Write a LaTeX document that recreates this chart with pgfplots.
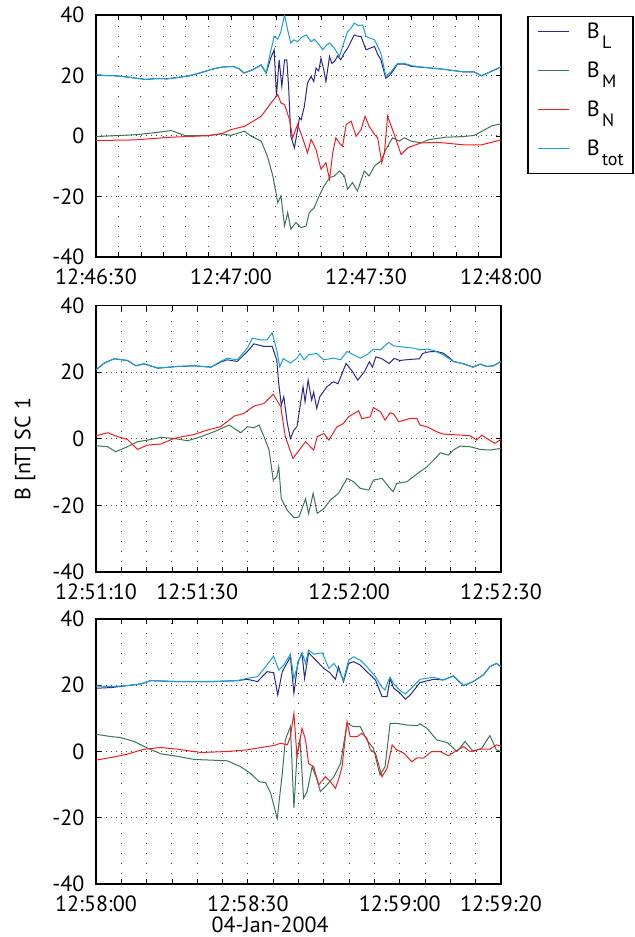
\documentclass[border=0pt]{standalone}
\usepackage{fontspec}
\setmainfont{PT Sans}
\usepackage{pgfplots}
\pgfplotsset{compat=1.18}
\definecolor{cBL}{RGB}{42,42,140}
\definecolor{cBM}{RGB}{58,118,85}
\definecolor{cBN}{RGB}{250,28,32}
\definecolor{cBT}{RGB}{22,162,212}
\newcommand{\sub}[1]{\hspace{1.2pt}\raisebox{-5pt}{\fontsize{9}{10}\selectfont #1}}
\pgfplotsset{
  panel/.style={
    scale only axis, width=202.5pt, xmin=0, ymin=-40, ymax=40,
    ytick={-40,-20,0,20,40}, yticklabels={-40,-20,0,20,40},
    tick align=inside, major tick length=2.5pt, minor tick length=2.5pt,
    tick style={black, line width=0.4pt},
    xmajorgrids, xminorgrids, ymajorgrids,
    major x grid style={black!75, line width=0.5pt, dash pattern=on 0.5pt off 4.5pt},
    minor x grid style={black!75, line width=0.5pt, dash pattern=on 0.5pt off 4.5pt},
    major y grid style={black!75, line width=0.5pt, dash pattern=on 0.5pt off 2pt},
    axis line style={black, line width=0.8pt},
    xticklabel style={yshift=-2.3pt},
    yticklabel style={xshift=-2pt},
    every axis plot/.append style={line width=0.5pt, no markers},
    every axis plot post/.append style={legend image code/.code={\draw[##1, line width=0.6pt] (0pt,3.5pt) -- (15.8pt,3.5pt);}},
    clip=true,
  }
}
\begin{document}
\fontsize{11}{13}\selectfont
\begin{tikzpicture}
\useasboundingbox (0,-468.5pt) rectangle (317.5pt,0pt);
% ---------- Panel 1 ----------
\begin{axis}[panel, at={(48pt,-7.5pt)}, anchor=north west, height=121pt, xmax=90,
  xtick={0,30,60,90}, xticklabels={12:46:30,12:47:00,12:47:30,12:48:00},
  minor xtick={5,10,...,85},
  legend style={at={(1.0642,0.997)}, anchor=north west, line width=0.8pt,
    inner xsep=4.6pt, inner ysep=3pt, row sep=5.5pt, column sep=8.5pt,
    nodes={inner sep=0pt, text height=8pt, text depth=6pt, anchor=base west}},
  legend cell align=left,
]
\addplot[color=cBL] coordinates {(0,20.2)(2,20)(4.5,19.9)(8,19.3)(11,18.7)(13.5,19)(15.8,18.9)(18,19.3)(20.7,19.9)(23,20.8)(25.6,22)(28,22.8)(30.5,23)(31.8,22.2)(32.9,20.8)(34.8,21.9)(36.7,23.5)(37.8,20.8)
 (38.9,26)(39.6,28.5)(40.1,13.1)(40.7,25.2)(41.3,16.4)(41.9,25.2)(42.4,25.2)(42.8,16.4)(43.3,-0.1)(44.1,-3.9)(44.8,2.1)(45.2,6)(45.6,5.4)(46.3,9.8)(47,17.5)(47.8,19.7)(48.4,18)(48.9,22.4)(49.5,21.5)(50,25.7)(50.6,22)(51.1,18)(51.9,26.3)(52.4,24)(53,24.6)(53.7,26.5)(54.4,25.2)(55.2,27.5)(55.9,29)(56.6,31)(57.4,33.4)(58.2,33)(58.9,32.9)(59.5,30.5)(60,28.5)(60.9,29)(61.9,29.6)(62.6,27)(63.3,25.2)(64.4,19.1)(65.2,20)(65.9,21.3)(67,23.8)(68.5,23.8)(70.3,23)(73.5,22.6)(77.6,22)(81.6,21.2)(84,21.2)(85.7,19.9)(87.3,21)(90,22.8)};
\addlegendentry{B\sub{L}}
\addplot[color=cBM] coordinates {(0,-0.2)(4,0.1)(8.5,0.4)(12.5,1)(16.7,1.8)(19.9,0.1)(24.8,0.1)(28,0.7)(30,0.2)(33,1.6)(34.4,0)(36.7,-1.7)(38.1,-6.7)(39.3,-13.2)(40.4,-22)(41.1,-19.8)(41.9,-29.7)(42.6,-25.3)(43.3,-30.8)(44.4,-28.6)(45.6,-30.3)(46.7,-29.7)(47.4,-25.3)(48.5,-23.7)(49.6,-19.8)(50.7,-16.5)(51.9,-13.8)(53,-13.2)(54.1,-11.6)(55.2,-13.2)(55.9,-17.6)(57,-15.4)(58.1,-18.2)(59.6,-11.6)(60.7,-13.2)(61.9,-9.9)(63.3,-8.3)(64.4,-4.5)(65.9,-0.6)(67.4,-1.7)(68.5,-0.6)(70,-1.7)(72.2,-2.3)(74,-1.2)(77.6,-0.4)(81.6,-0.2)(84,0.2)(85.7,1.5)(88,3.4)(90,4)};
\addlegendentry{B\sub{M}}
\addplot[color=cBN] coordinates {(0,-1.5)(8.5,-1.3)(16.7,-0.4)(24.8,0.1)(28,0.8)(30,2.1)(33,3.2)(34.5,4.5)(36.7,6.5)(38.9,10.9)(40.4,13.7)(41.1,10.9)(41.9,10.4)(43,5.4)(43.7,-0.6)(44.8,3.8)(45.9,-0.6)(47,-5.6)(47.8,-1.1)(48.9,-4.5)(50,-11)(51.1,-8.8)(51.9,-14.3)(52.6,-5.6)(53.3,-0.6)(54.1,-2.3)(54.8,-3.4)(55.6,3.8)(56.7,4.9)(57.8,-0.1)(58.9,2.1)(59.8,6.5)(60.7,3.2)(61.9,0.5)(62.6,-0.6)(63.5,-8.8)(64.1,-5.6)(64.8,6.5)(65.9,2.1)(67.8,-6.1)(69.3,-3.9)(72.2,-2.3)(76,-2.1)(81.6,-2.9)(85.7,-2.9)(90,-1.3)};
\addlegendentry{B\sub{N}}
\addplot[color=cBT] coordinates {(0,20.2)(2,20)(4.5,19.9)(8,19.3)(11,18.7)(13.5,19)(15.8,18.9)(18,19.3)(20.7,19.9)(23,20.8)(25.6,22)(28,22.8)(30.5,23)(31.8,22.2)(32.9,20.8)(34.8,21.9)(36.7,23.5)(37.8,20.8)
 (38.9,28.5)(39.6,32.9)(40.4,32)(41.1,34.5)(41.9,40)(42.6,35)(43.3,30.7)(44,31.8)(44.8,31.2)(45.6,32.5)(46.7,33.4)(47.8,31.2)(48.5,32)(49.3,30.7)(50.4,28.5)(51.2,30)(51.9,30.7)(53,29)(54.1,26.3)(54.8,29.6)(55.9,34.5)(56.6,35.5)(57.4,37.3)(58.3,36.5)(59.3,36.7)(60,32.9)(61.9,31.8)(63.3,27.4)(64.4,19.7)(65.6,21.3)(67,24)(68.5,24)(70.3,23.2)(73.5,22.6)(77.6,22)(81.6,21.2)(84,21.2)(85.7,19.9)(87.3,21)(90,22.8)};
\addlegendentry{B\sub{tot}}
\end{axis}
% ---------- Panel 2 ----------
\begin{axis}[panel, at={(48pt,-152.75pt)}, anchor=north west, height=133.25pt, xmax=80,
  xtick={0,20,50,80}, xticklabels={12:51:10,12:51:30,12:52:00,12:52:30},
  minor xtick={5,10,...,75},
  ylabel={B [nT] SC 1},
  ylabel style={at={(axis description cs:-0.1753,0.4615)}, anchor=center},
]
\addplot[color=cBL] coordinates {(0,20.7)(1.6,22.7)(3.6,24)(6.2,23.5)(7.9,21.9)(9.5,22.5)(12.2,21.2)(16.1,21.7)(19.4,21.9)(22.7,21.5)(24.6,23)(25.9,23.7)(27.9,23.2)(29.9,26.2)(31.2,28.5)(33.2,27.7)(34.8,27.7)(35.7,23.7)(36.1,16.6)(36.6,10.1)(37.1,12.6)(37.8,4.6)(38.4,0.1)(39.1,2.6)(39.7,3.6)(40.3,9.6)(40.9,15.6)(41.3,11.1)(41.9,17.6)(42.6,11.6)(43,14)(43.6,9.1)(44.2,12.6)(45.6,15.6)(46.9,17.1)(47.8,16.5)(49.4,22.6)(50.7,20.1)(51.7,17.6)(53,20.1)(54,23.1)(54.6,21.5)(55.3,24.6)(56.5,24)(57.9,22.6)(58.9,24.1)(60,23.5)(61.9,23.8)(63.9,24)(64.5,25.6)(65.8,26.1)(67.3,26.2)(68.6,25.7)(69.9,24.2)(70.6,23.2)(72.6,22.5)(74.5,21.5)(75.9,22.4)(77.2,21.7)(78.5,21.9)(80,23.2)};
\addplot[color=cBM] coordinates {(0,-2.1)(2.3,-2.4)(3.9,-3.9)(6.2,-2.4)(8.2,-0.9)(10.2,-0.4)(12.8,0.4)(15.4,0.1)(18.1,-0.6)(20.7,0.6)(23.3,2.1)(26.3,4.1)(28.6,1.8)(29.9,3.6)(31.2,3.3)(32.2,4.1)(33.2,0.6)(34.2,-3.4)(35,-12.4)(35.7,-11.4)(36.1,-8.4)(36.6,-18)(37.8,-21.5)(39.1,-23.7)(40.1,-23.5)(41.4,-18)(42,-22.5)(42.9,-16.4)(43.7,-22.4)(45,-21)(46.3,-18.4)(47.9,-16.4)(49.6,-11.9)(50.9,-12.9)(52.2,-14.9)(53.9,-15.4)(54.8,-12.4)(56.5,-11.9)(57.8,-14.4)(58.7,-15.9)(59.4,-13.4)(61.4,-12.9)(62.7,-11.4)(64,-9.9)(65.4,-8.4)(66.7,-6.4)(68,-4.2)(69.6,-4.9)(70.6,-3.4)(71.9,-2.2)(73.9,-2.4)(75.9,-3.2)(77.8,-3.4)(80,-2.9)};
\addplot[color=cBN] coordinates {(0,0.9)(2.3,1.8)(4.3,0.6)(6.2,-0.2)(8.2,-3.2)(10.2,-1.9)(12.8,-1.6)(15.4,0.1)(19.4,1.3)(22,2.6)(24.6,3.6)(27.3,6.8)(29.2,7.6)(31.2,9.8)(33.2,10.6)(35,13.4)(36.5,9.6)(37.4,0.6)(38.9,-5.9)(40.4,-2.9)(41.4,-0.9)(43,-3.4)(43.7,0.6)(45,1.6)(46,-0.4)(47.6,3.6)(48.9,4.6)(49.9,6.6)(51.9,8.4)(52.5,6)(54.2,6.6)(54.8,9.4)(56.2,8.1)(57.1,5.6)(58.1,7.8)(58.8,7.4)(59.8,5.1)(62.1,6.1)(63.4,6.1)(64,4.1)(65.4,3.6)(67.3,2.1)(68.6,1.4)(71.9,1.1)(73.9,0.9)(75.2,-0.4)(76.2,1.1)(77.2,0.1)(78.8,-1.4)(80,-0.2)};
\addplot[color=cBT] coordinates {(0,20.7)(1.6,22.7)(3.6,24)(6.2,23.5)(7.9,21.9)(9.5,22.5)(12.2,21.2)(16.1,21.7)(19.4,21.9)(22.7,21.5)(24.6,23.2)(25.9,24.2)(27.9,23.7)(29.9,27.2)(30.9,30.2)(32.5,29.7)(33.8,29.7)(34.8,31.8)(35.7,26.7)(36.3,21.6)(37,24.1)(38.4,22.7)(39.7,24.2)(40.3,25.6)(41.1,23.7)(42,25.2)(43.6,25.6)(45,23.7)(47,24.2)(48.3,23.7)(49.6,26.2)(50.9,25.2)(52.2,24.2)(53.5,25.2)(54.8,26.9)(56.2,26.7)(57.8,28.9)(58.8,27.9)(60.8,27.5)(62.7,27.2)(64,26.7)(65.4,26.9)(66.7,26.5)(68.6,25.2)(70.6,23.2)(72.6,22.5)(74.5,21.5)(75.9,22.4)(77.2,21.7)(78.5,21.9)(80,23.2)};
\end{axis}
% ---------- Panel 3 ----------
\begin{axis}[panel, at={(48pt,-309.5pt)}, anchor=north west, height=132.5pt, xmax=80,
  xtick={0,30,60,80}, xticklabels={12:58:00,12:58:30,12:59:00,12:59:20},
  minor xtick={5,10,...,75},
  xlabel={04-Jan-2004},
  xlabel style={at={(axis description cs:0.43,0)}, anchor=center, yshift=-20.5pt},
]
\addplot[color=cBL] coordinates {(0,19.1)(3,19.3)(6.2,19.9)(8.9,20.4)(10.8,21.4)(16.1,21.1)(22.7,21.1)(27.9,21.4)(29.9,21.8)(31.9,21.1)(33.8,24.1)(35.1,23.8)(35.9,17.1)(36.8,24.1)(38.4,28.6)(39.1,17.6)(39.9,27.1)(40.7,29.6)(41.2,22.1)(42,29.8)(43.4,27.6)(45,25.1)(46.2,23.8)(47.3,21.8)(47.9,25.6)(48.9,21.1)(49.9,26.6)(50.9,27.1)(52.2,26.1)(53.5,24.1)(55.2,21.6)(56.5,16.6)(57.5,16.6)(58.1,22.1)(58.8,19.1)(60.1,17.6)(61.1,15.8)(62.1,17.1)(64,20.8)(66.7,21.8)(68.6,21.6)(70.6,22.8)(72.6,19.9)(74.5,21.1)(76.5,23.1)(77.8,25.6)(79.1,26.6)(80,25.6)};
\addplot[color=cBM] coordinates {(0,5.2)(3,4.5)(4.9,4.2)(7.6,3)(10.2,1)(12.8,-0.7)(15.4,-1.3)(19.4,-2.4)(22.7,-2.6)(25.9,-2.8)(28.6,-4.6)(30.5,-6.6)(32.2,-9.1)(33.5,-9.4)(34.5,-12.6)(35.8,-20.2)(36.8,-6.6)(37.4,3.5)(38.4,7.5)(39.1,-17.1)(39.7,-1)(40.3,3.5)(41,-14.1)(41.7,-12.1)(42.7,-4.6)(43.7,-8.6)(44.3,-12.1)(45.6,-10.1)(47,-7.6)(48.3,-3.6)(49.6,8.5)(50.9,7.5)(52.2,7.5)(53.5,3.5)(54.8,1)(56.1,-7.1)(57.1,-4.6)(58.1,8.5)(59.4,8.5)(61.4,8)(63.4,7.8)(64,8.3)(65.4,7)(67.3,3.5)(69.4,2.7)(71.3,0)(72.9,3)(74.5,0)(76.2,1)(77.8,4.8)(79.1,0.5)(80,0)};
\addplot[color=cBN] coordinates {(0,-2.6)(3,-1.8)(6.2,-0.8)(9.5,0.7)(12.8,1.2)(16.1,0.7)(20.7,-0.3)(25.9,0)(29.9,0.5)(33.8,1.5)(35.1,1.8)(36.5,2.5)(37.8,2)(38.4,4.5)(39.1,11.5)(39.7,-1.5)(40.7,7)(41.4,3.5)(42,-3.6)(43,-4.6)(44,-10.1)(45.3,-7.6)(46.3,-9.1)(47.3,-11.1)(47.9,-8.6)(48.6,-4.6)(49.6,9)(50.2,4.5)(51.6,4.5)(52.5,5.5)(53.5,4)(54.2,0.5)(55.2,-0.5)(56.5,-7.6)(57.5,-5.1)(58.5,2)(59.4,0.5)(60.8,-0.5)(62.4,-3.1)(63.4,-1.9)(64.7,-2)(66.3,0)(68,0)(69.6,-1.3)(70.9,0)(72.6,1.5)(73.9,0)(75.9,0.7)(77.8,0.7)(79.1,2)(80,1.7)};
\addplot[color=cBT] coordinates {(0,19.8)(3,19.6)(6.2,19.9)(8.9,20.4)(10.8,21.4)(16.1,21.1)(22.7,21.1)(27.9,21.4)(29.9,22.1)(31.9,22.6)(33.5,25.6)(35.1,28.8)(36.1,24.6)(37.1,26.1)(38.4,29.4)(39.1,22)(40.1,27.6)(40.7,29.8)(41.4,26.6)(42,30.6)(43,29.4)(44.7,29.8)(46,25.1)(47,26.6)(47.9,24.6)(48.9,21.6)(49.9,27.6)(50.9,28.6)(52.2,27.6)(53.5,25.6)(55.2,22.6)(56.5,19.4)(57.1,18.6)(57.8,21.6)(58.1,22.4)(58.8,20.4)(60.1,18.4)(61.1,17.4)(62.1,18.8)(64,21.8)(66.7,22.4)(68.6,21.6)(70.6,22.8)(72.6,19.9)(74.5,21.1)(76.5,23.1)(77.8,25.6)(79.1,26.6)(80,25.6)};
\end{axis}
\end{tikzpicture}
\end{document}
